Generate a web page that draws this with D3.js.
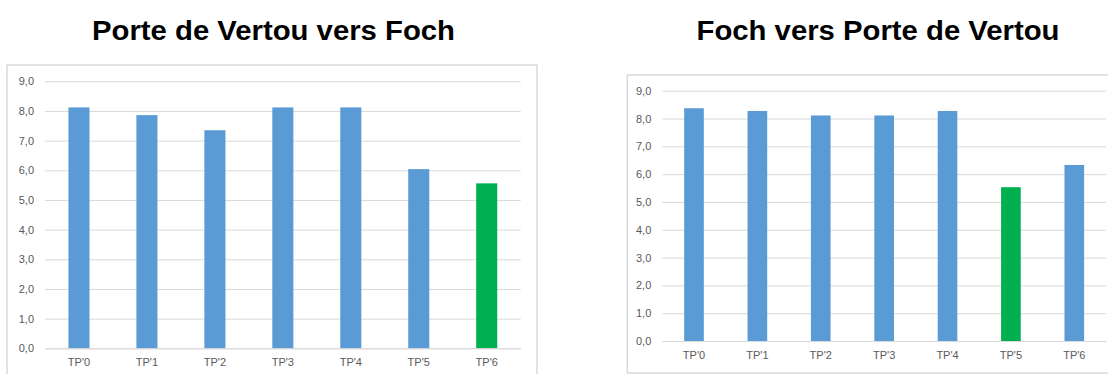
<!DOCTYPE html>
<html>
<head>
<meta charset="utf-8">
<script src="https://cdn.jsdelivr.net/npm/d3@7"></script>
<style>
  html, body { margin: 0; padding: 0; background: #fff; }
  svg { display: block; }
</style>
</head>
<body>
<svg id="chart" width="1108" height="374"></svg>
<script>
// ---- data ----
const categories = ["TP'0", "TP'1", "TP'2", "TP'3", "TP'4", "TP'5", "TP'6"];
const yTicks = [0, 1, 2, 3, 4, 5, 6, 7, 8, 9];

const titleLeft = "Porte de Vertou vers Foch";
const valuesLeft = [8.12, 7.86, 7.35, 8.12, 8.12, 6.04, 5.56];
const highlightLeft = ["TP'6"];

const titleRight = "Foch vers Porte de Vertou";
const valuesRight = [8.37, 8.27, 8.11, 8.11, 8.27, 5.53, 6.33];
const highlightRight = ["TP'5"];

// ---- drawing ----
const svg = d3.select("#chart");
const BLUE = "#5b9bd5", GREEN = "#00b050", GRID = "#d9d9d9", TEXT = "#595959";
const fmt = v => d3.format(".1f")(v).replace(".", ",");

function drawChart(opts) {
  const { title, values, highlight, box, plot, titleX } = opts;
  const g = svg.append("g");

  g.append("text")
    .attr("x", titleX).attr("y", 40)
    .attr("text-anchor", "middle")
    .attr("textLength", 363)
    .attr("lengthAdjust", "spacingAndGlyphs")
    .style("font-family", "'Liberation Sans', Arial, sans-serif")
    .style("font-weight", "bold")
    .style("font-size", "28px")
    .attr("fill", "#000")
    .text(title);

  g.append("rect")
    .attr("x", box.x).attr("y", box.y)
    .attr("width", box.w).attr("height", box.h)
    .attr("fill", "#fff").attr("stroke", GRID).attr("stroke-width", 1.5);

  const x = d3.scaleBand().domain(categories)
    .range([plot.left, plot.right]).paddingInner(0.69).paddingOuter(0.345);
  const y = d3.scaleLinear().domain([0, 9]).range([plot.bottom, plot.top]);

  const yAxis = d3.axisLeft(y).tickValues(yTicks).tickFormat(fmt)
    .tickSize(-(plot.right - plot.left)).tickPadding(11);
  const ya = g.append("g").attr("transform", `translate(${plot.left},0)`).call(yAxis);
  ya.select(".domain").remove();
  ya.selectAll(".tick line").attr("stroke", GRID).attr("stroke-width", 1);
  ya.selectAll(".tick text")
    .attr("fill", TEXT)
    .style("font-family", "'Liberation Sans', Arial, sans-serif")
    .style("font-size", "11px");

  g.selectAll("rect.bar").data(categories).enter().append("rect")
    .attr("class", "bar")
    .attr("x", d => x(d))
    .attr("width", x.bandwidth())
    .attr("y", (d, i) => y(values[i]))
    .attr("height", (d, i) => y(0) - y(values[i]))
    .attr("fill", d => highlight.includes(d) ? GREEN : BLUE);

  const xAxis = d3.axisBottom(x).tickSize(0).tickPadding(10);
  const xa = g.append("g").attr("transform", `translate(0,${plot.bottom})`).call(xAxis);
  xa.select(".domain").attr("stroke", GRID);
  xa.selectAll(".tick text")
    .attr("fill", TEXT)
    .style("font-family", "'Liberation Sans', Arial, sans-serif")
    .style("font-size", "11px");
}

drawChart({
  title: titleLeft, values: valuesLeft, highlight: highlightLeft,
  titleX: 273.5,
  box: { x: 7, y: 65, w: 530, h: 330 },
  plot: { left: 45, right: 520.7, top: 81.3, bottom: 348.3 }
});

drawChart({
  title: titleRight, values: valuesRight, highlight: highlightRight,
  titleX: 878,
  box: { x: 627.3, y: 75, w: 510, h: 298 },
  plot: { left: 662.3, right: 1106, top: 90.7, bottom: 341 }
});
</script>
</body>
</html>
